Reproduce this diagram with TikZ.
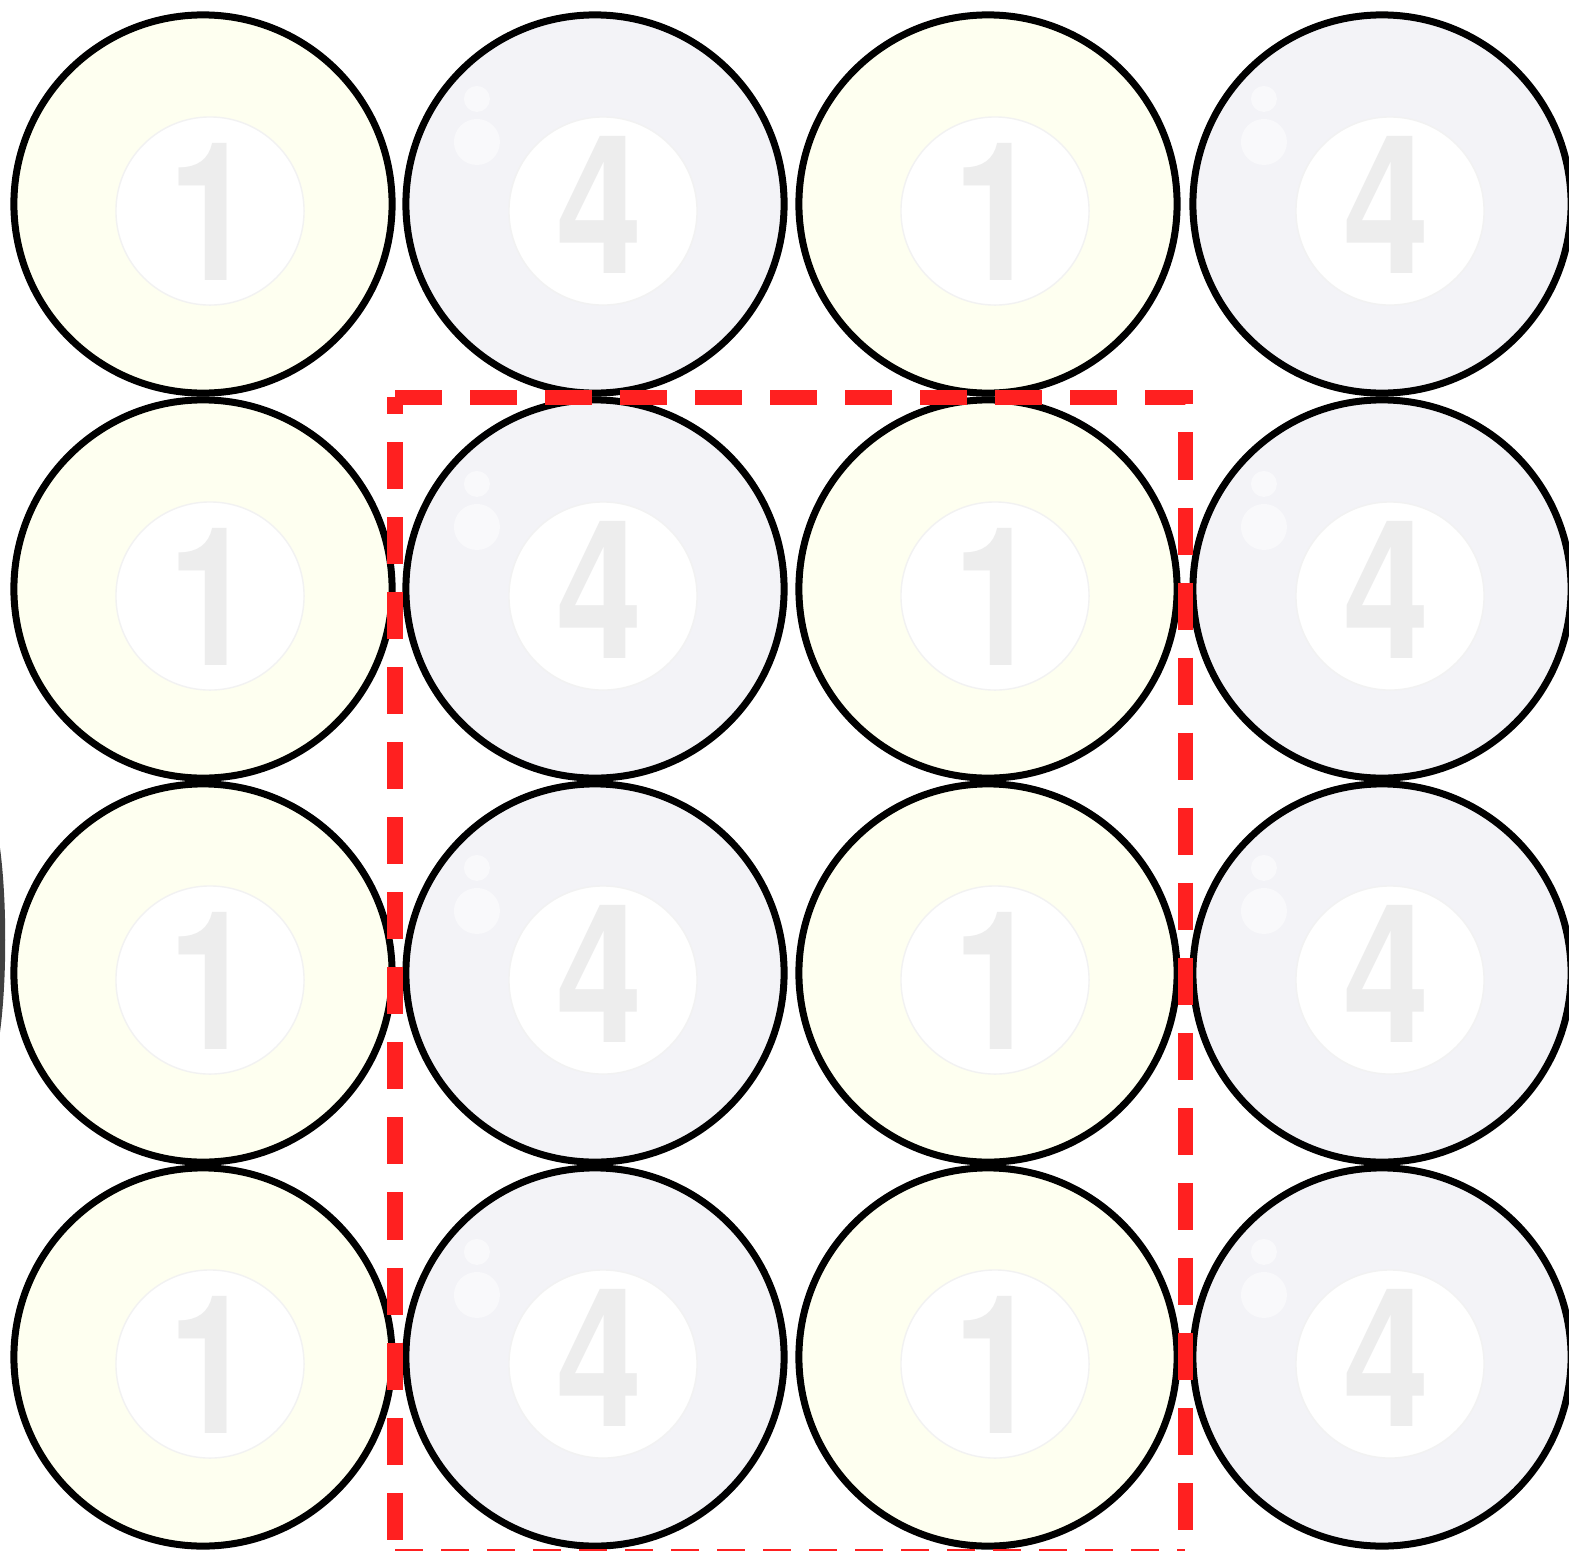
\documentclass[tikz,border=0pt]{standalone}
\usepackage{fontspec}
\newfontfamily\ballfont{texgyreheros}[Extension=.otf, UprightFont=*-regular, BoldFont=*-bold]
\usepackage{tikz}

\definecolor{ballyellow}{HTML}{FEFFF0}
\definecolor{ballgray}{HTML}{F3F3F7}
\definecolor{numgray}{HTML}{EDEDED}
\definecolor{rimgray}{HTML}{F2F2F2}
\definecolor{shine}{HTML}{F9F9FB}
\definecolor{boxred}{HTML}{FF2020}

\newcommand{\balldigit}[1]{\scalebox{0.8}[1]{#1}}

\tikzset{
  ball/.style={circle, draw=black, line width=0.07cm, minimum size=3.78cm, inner sep=0pt},
  ballone/.style={ball, fill=ballyellow},
  ballfour/.style={ball, fill=ballgray},
  spot/.style={circle, draw=rimgray, line width=0.4pt, fill=white, minimum size=1.88cm, inner sep=0pt},
  digit/.style={text=numgray, font=\ballfont\bfseries\fontsize{55}{55}\selectfont, inner sep=0pt},
  gleam/.style={circle, fill=shine, inner sep=0pt},
  cellbox/.style={draw=boxred, line width=0.15cm, dash pattern=on 0.47cm off 0.28cm}
}

\begin{document}
\begin{tikzpicture}[x=0.01cm, y=-0.01cm]
  \useasboundingbox (0,0) rectangle (1569,1551);
  \clip (0,0) rectangle (1569,1551);

  % sliver of a ball off the left edge
  \fill[black!75] (0,848) .. controls (7,900) and (7,980) .. (0,1032) -- cycle;

  % yellow balls (number 1) in columns 1 and 3
  \foreach \r/\y in {1/204, 2/589, 3/973, 4/1357} {
    \foreach \c/\x in {1/203, 3/988} {
      \node[ballone] (b\r\c) at (\x,\y) {};
      \node[spot] (s\r\c) at ([xshift=0.07cm, yshift=-0.07cm]b\r\c.center) {};
      \node[digit] (n\r\c) at ([xshift=0.09cm, yshift=-0.08cm]b\r\c.center) {\balldigit{1}};
    }
  }

  % gray balls (number 4) in columns 2 and 4
  \foreach \r/\y in {1/204, 2/589, 3/973, 4/1357} {
    \foreach \c/\x in {2/595, 4/1382} {
      \node[ballfour] (b\r\c) at (\x,\y) {};
      \node[gleam, minimum size=0.26cm] (g\r\c) at ([xshift=-1.18cm, yshift=1.05cm]b\r\c.center) {};
      \node[gleam, minimum size=0.46cm] (h\r\c) at ([xshift=-1.18cm, yshift=0.62cm]b\r\c.center) {};
      \node[spot] (s\r\c) at ([xshift=0.08cm, yshift=-0.07cm]b\r\c.center) {};
      \node[digit] (n\r\c) at ([xshift=0.05cm, yshift=-0.01cm]b\r\c.center) {\balldigit{4}};
    }
  }

  % dashed unit cell
  \coordinate (cellnw) at (395,397);
  \coordinate (cellne) at (1185,397);
  \coordinate (cellse) at (1185,1556);
  \coordinate (cellsw) at (395,1556);
  \draw[cellbox] (cellnw) -- (cellne) -- (cellse);
  \draw[cellbox, dash phase=0.30cm] (cellnw) -- (cellsw);
  \draw[cellbox, dash pattern=on 0.28cm off 0.18cm] (cellsw) -- (cellse);
\end{tikzpicture}
\end{document}
